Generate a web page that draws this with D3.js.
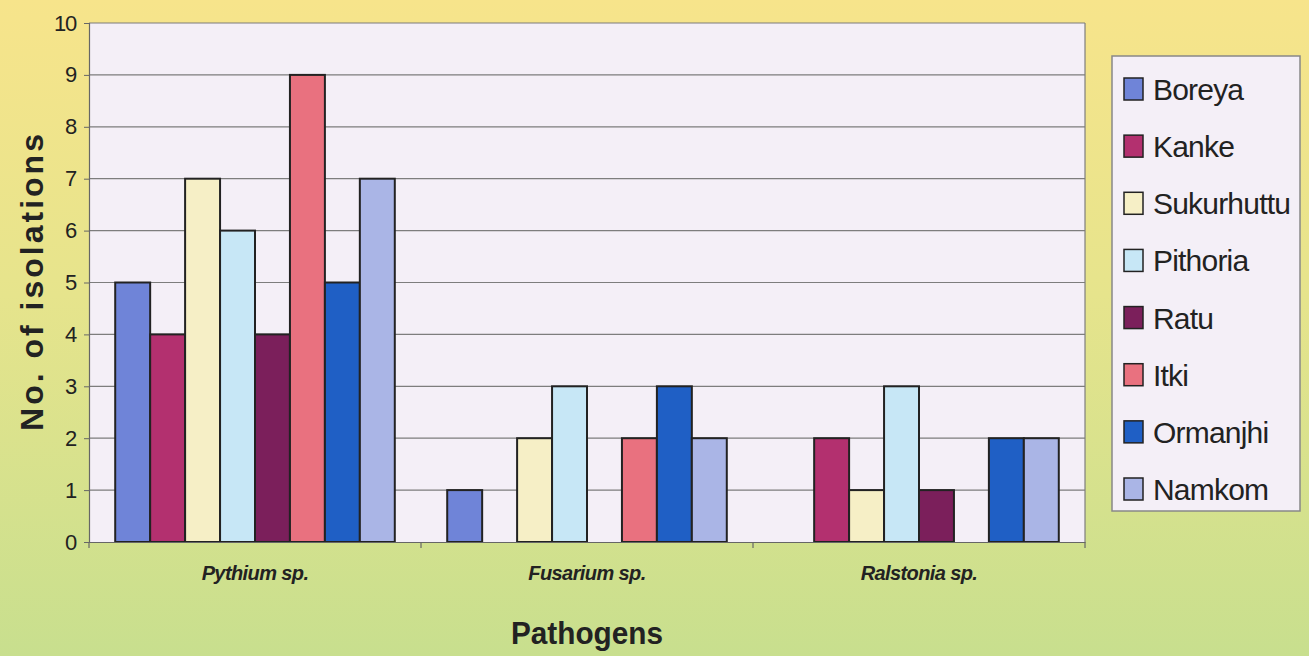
<!DOCTYPE html>
<html><head><meta charset="utf-8">
<script src="https://cdn.jsdelivr.net/npm/d3@7"></script>
<style>html,body{margin:0;padding:0;overflow:hidden;}</style>
</head><body>
<svg id="chart" width="1309" height="656"></svg>
<script>
const categories = ["Pythium sp.", "Fusarium sp.", "Ralstonia sp."];
const series = ["Boreya","Kanke","Sukurhuttu","Pithoria","Ratu","Itki","Ormanjhi","Namkom"];
const Boreya = [5,1,0];
const Kanke = [4,0,2];
const Sukurhuttu = [7,2,1];
const Pithoria = [6,3,3];
const Ratu = [4,0,1];
const Itki = [9,2,0];
const Ormanjhi = [5,3,2];
const Namkom = [7,2,2];
const yTicks = [0,1,2,3,4,5,6,7,8,9,10];
const colors = ["#6f84d8","#b3306f","#f6efc6","#c7e7f6","#7b1f5b","#e9717f","#1f5fc5","#aab5e6"];
const values = [Boreya,Kanke,Sukurhuttu,Pithoria,Ratu,Itki,Ormanjhi,Namkom];

(function(){
const svg = d3.select("#chart");
const W = 1309, H = 656;
const SANS = "'Liberation Sans',Arial,sans-serif";

const defs = svg.append("defs");
const g0 = defs.append("linearGradient").attr("id","bg").attr("x1",0).attr("y1",0).attr("x2",0).attr("y2",1);
g0.append("stop").attr("offset","0%").attr("stop-color","#f7e48b");
g0.append("stop").attr("offset","45%").attr("stop-color","#e6e48c");
g0.append("stop").attr("offset","100%").attr("stop-color","#c8df8e");
svg.append("rect").attr("width",W).attr("height",H).attr("fill","url(#bg)");

const pL = 89, pR = 1085, pT = 23, pB = 542;
const x0 = d3.scaleBand().domain(categories).range([pL,pR]).paddingInner(0).paddingOuter(0);
const x1 = d3.scaleBand().domain(series).range([0,x0.bandwidth()]).paddingInner(0).paddingOuter(0.75);
const y = d3.scaleLinear().domain([0,10]).range([pB,pT]);

svg.append("rect").attr("x",pL).attr("y",pT).attr("width",pR-pL).attr("height",pB-pT).attr("fill","#f4eff7");

svg.append("g").selectAll("line").data(yTicks.filter(d=>d>0)).join("line")
  .attr("x1",pL).attr("x2",pR).attr("y1",d=>y(d)).attr("y2",d=>y(d))
  .attr("stroke","#7d7d7d").attr("stroke-width",1.2);
svg.append("line").attr("x1",pR).attr("x2",pR).attr("y1",pT).attr("y2",pB).attr("stroke","#7d7d7d").attr("stroke-width",1.2);

const gb = svg.append("g");
categories.forEach((c,ci)=>{
  series.forEach((s,si)=>{
    const v = values[si][ci];
    if (v<=0) return;
    gb.append("rect").attr("x",x0(c)+x1(s)).attr("y",y(v)).attr("width",x1.bandwidth()).attr("height",y(0)-y(v))
      .attr("fill",colors[si]).attr("stroke","#222").attr("stroke-width",2);
  });
});

const ya = svg.append("g").attr("transform",`translate(${pL},0)`)
  .call(d3.axisLeft(y).tickValues(yTicks).tickSize(5).tickPadding(8).tickFormat(d3.format("d")));
ya.select(".domain").attr("stroke","#666").attr("stroke-width",1.2);
ya.selectAll(".tick line").attr("stroke","#666");
ya.selectAll("text").attr("font-family",SANS).style("font-size","22px").attr("letter-spacing",-1.2).attr("fill","#222");

const xa = svg.append("g").attr("transform",`translate(0,${pB})`)
  .call(d3.axisBottom(x0).tickSize(0).tickPadding(24));
xa.select(".domain").attr("stroke","#666").attr("stroke-width",1.2);
xa.selectAll("text").attr("font-family",SANS).style("font-size","20px")
  .attr("font-weight","bold").attr("font-style","italic").attr("letter-spacing",-0.6).attr("fill","#222");
svg.append("g").selectAll("line").data([pL, x0(categories[1]), x0(categories[2]), pR]).join("line")
  .attr("x1",d=>d).attr("x2",d=>d).attr("y1",pB).attr("y2",pB+6).attr("stroke","#666").attr("stroke-width",1.2);

svg.append("text").attr("transform","translate(43,281) rotate(-90)").attr("text-anchor","middle")
  .attr("font-family",SANS).attr("font-weight","bold").attr("font-size",32)
  .attr("letter-spacing",3).attr("fill","#222").text("No. of isolations");
svg.append("text").attr("transform","translate(587,644) scale(0.93,1)").attr("text-anchor","middle")
  .attr("font-family",SANS).attr("font-weight","bold").attr("font-size",32).attr("fill","#222").text("Pathogens");

const lg = svg.append("g");
lg.append("rect").attr("x",1112).attr("y",56).attr("width",188).attr("height",455)
  .attr("fill","#f4eff7").attr("stroke","#888").attr("stroke-width",1.5);
const ly = d3.scalePoint().domain(series).range([89,489]);
const items = lg.selectAll("g.item").data(series).join("g").attr("class","item")
  .attr("transform",d=>`translate(1124,${ly(d)})`);
items.append("rect").attr("x",0).attr("y",-11).attr("width",19).attr("height",22)
  .attr("fill",(d,i)=>colors[i]).attr("stroke","#222").attr("stroke-width",1.5);
items.append("text").attr("x",29).attr("y",11).attr("font-family",SANS).attr("font-size",30)
  .attr("letter-spacing",-0.8).attr("fill","#222").text(d=>d);
})();
</script>
</body></html>
